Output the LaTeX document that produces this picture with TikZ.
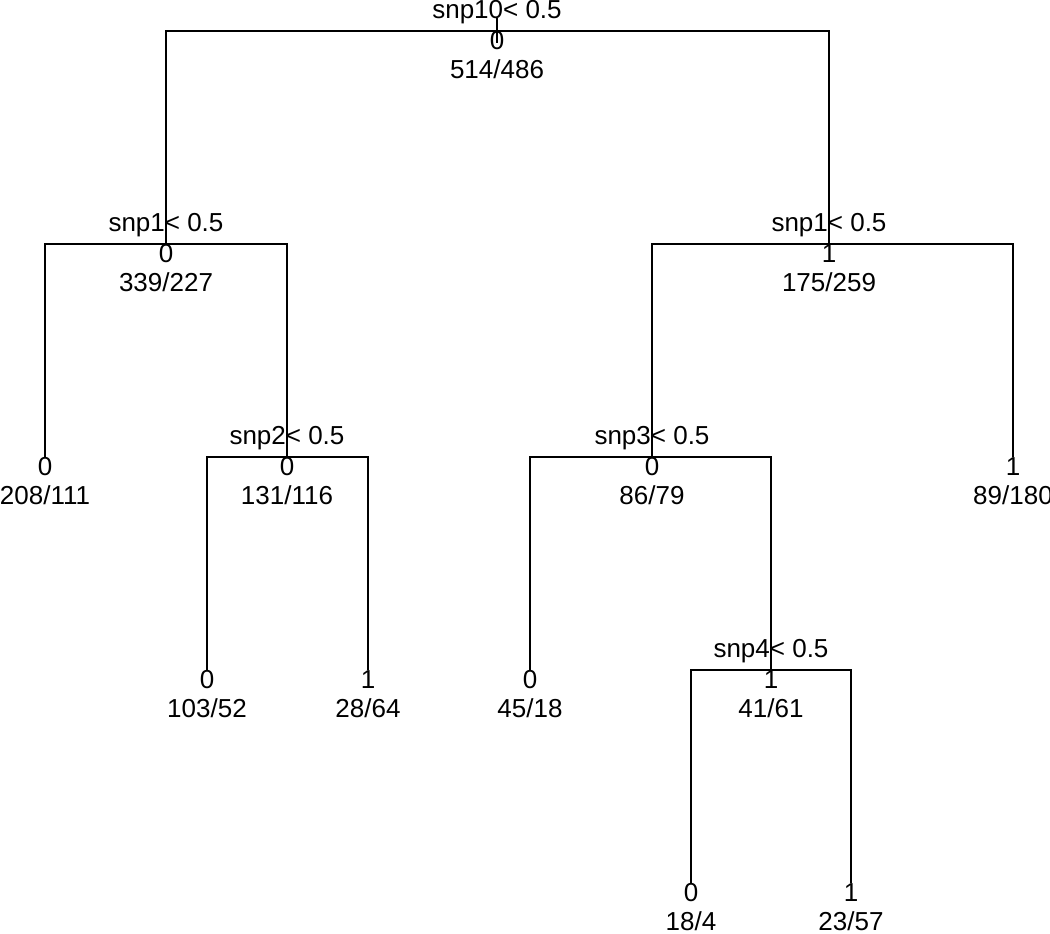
\documentclass[tikz,border=0pt]{standalone}
\usepackage{fontspec}
\setmainfont{Liberation Sans}
\usetikzlibrary{positioning}
\newcommand{\splitat}[1]{snp#1< 0.5}

\begin{document}
\begin{tikzpicture}[x=0.5pt, y=-0.5pt, every node/.style={font=\fontsize{13}{15}\selectfont, inner sep=0pt},
  branch/.style={line width=1pt, black},
  splitlab/.style={above=3.5pt of #1},
  clslab/.style={below=0pt of #1},
  cntlab/.style={below=14pt of #1}]
  \useasboundingbox (0,0) rectangle (1050,933);
  % tree node points
  \coordinate (n1) at (497,31);
  \coordinate (n2) at (166,244);
  \coordinate (n3) at (829,244);
  \coordinate (n4) at (45,457);
  \coordinate (n5) at (287,457);
  \coordinate (n6) at (652,457);
  \coordinate (n7) at (1013,457);
  \coordinate (n8) at (207,670);
  \coordinate (n9) at (368,670);
  \coordinate (n10) at (530,670);
  \coordinate (n11) at (771,670);
  \coordinate (n12) at (691,883);
  \coordinate (n13) at (851,883);

  % branches
  \draw[branch] ([yshift=6.5pt]n1) -- ([yshift=-6pt]n1);
  \draw[branch] (n1) -| (n2);
  \draw[branch] (n1) -| (n3);
  \draw[branch] (n2) -| (n4);
  \draw[branch] (n2) -| (n5);
  \draw[branch] (n3) -| (n6);
  \draw[branch] (n3) -| (n7);
  \draw[branch] (n5) -| (n8);
  \draw[branch] (n5) -| (n9);
  \draw[branch] (n6) -| (n10);
  \draw[branch] (n6) -| (n11);
  \draw[branch] (n11) -| (n12);
  \draw[branch] (n11) -| (n13);

  % split rules
  \node[splitlab=n1] (s1) {\splitat{10}};
  \node[splitlab=n2] (s2) {\splitat{1}};
  \node[splitlab=n3] (s3) {\splitat{1}};
  \node[splitlab=n5] (s5) {\splitat{2}};
  \node[splitlab=n6] (s6) {\splitat{3}};
  \node[splitlab=n11] (s11) {\splitat{4}};

  % fitted class and counts
  \node[clslab=n1] (c1) {0};    \node[cntlab=n1] (k1) {514/486};
  \node[clslab=n2] (c2) {0};    \node[cntlab=n2] (k2) {339/227};
  \node[clslab=n3] (c3) {1};    \node[cntlab=n3] (k3) {175/259};
  \node[clslab=n4] (c4) {0};    \node[cntlab=n4] (k4) {208/111};
  \node[clslab=n5] (c5) {0};    \node[cntlab=n5] (k5) {131/116};
  \node[clslab=n6] (c6) {0};    \node[cntlab=n6] (k6) {86/79};
  \node[clslab=n7] (c7) {1};    \node[cntlab=n7] (k7) {89/180};
  \node[clslab=n8] (c8) {0};    \node[cntlab=n8] (k8) {103/52};
  \node[clslab=n9] (c9) {1};    \node[cntlab=n9] (k9) {28/64};
  \node[clslab=n10] (c10) {0};  \node[cntlab=n10] (k10) {45/18};
  \node[clslab=n11] (c11) {1};  \node[cntlab=n11] (k11) {41/61};
  \node[clslab=n12] (c12) {0};  \node[cntlab=n12] (k12) {18/4};
  \node[clslab=n13] (c13) {1};  \node[cntlab=n13] (k13) {23/57};
\end{tikzpicture}
\end{document}
